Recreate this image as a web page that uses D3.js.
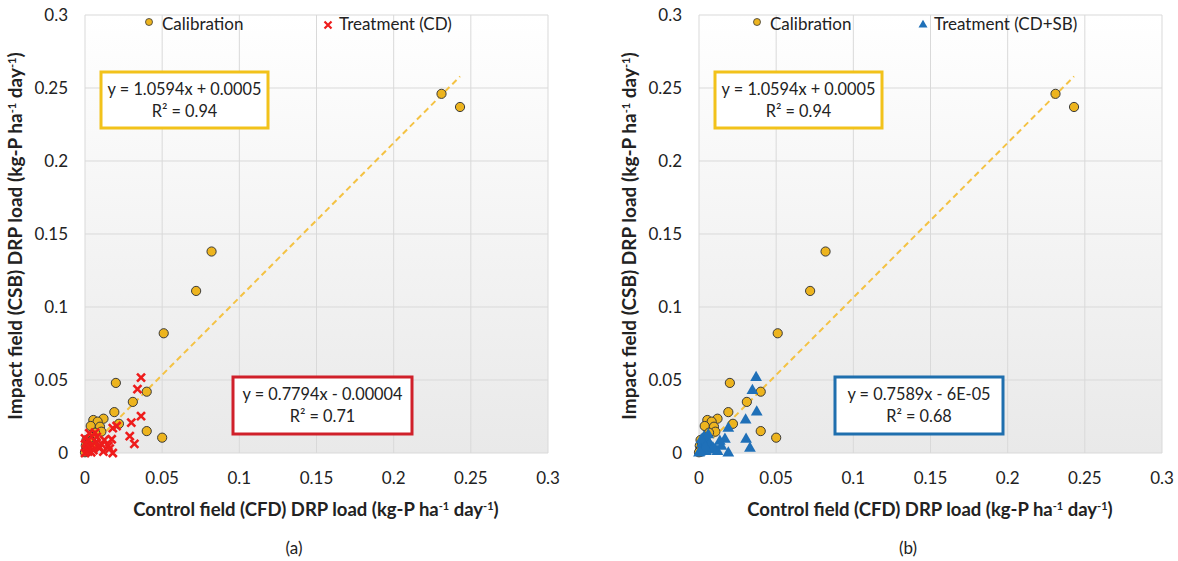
<!DOCTYPE html>
<html>
<head>
<meta charset="utf-8">
<script src="https://cdn.jsdelivr.net/npm/d3@7/dist/d3.min.js"></script>
<style>
  body { margin: 0; background: #fff; }
  text { font-family: Lato, "Open Sans", sans-serif; fill: #222; }
</style>
</head>
<body>
<script>
// calibration period (same in both panels)
const calibX = [0.231, 0.243, 0.082, 0.072, 0.051, 0.020, 0.040, 0.031, 0.019, 0.022, 0.040, 0.050,
                0.012, 0.0054, 0.0082, 0.0037, 0.0097, 0.0106, 0.0065, 0.0043, 0.001, 0.0005, 0.002,
                0.003, 0.0008, 0.0015, 0.0, 0.004, 0.006];
const calibY = [0.246, 0.237, 0.138, 0.111, 0.082, 0.048, 0.042, 0.035, 0.028, 0.020, 0.015, 0.0105,
                0.0235, 0.0226, 0.0215, 0.0185, 0.018, 0.0146, 0.0139, 0.011, 0.0089, 0.005, 0.006,
                0.0035, 0.002, 0.001, 0.0005, 0.008, 0.005];

// treatment (CD)
const cdX = [0.0363, 0.034, 0.0363, 0.030, 0.029, 0.032, 0.018, 0.0205, 0.0173, 0.018, 0.0125, 0.0108,
             0.0151, 0.0093, 0.0054, 0.0076, 0.0022, 0.0043, 0.001, 0.0, 0.0119, 0.016, 0.0028, 0.0,
             0.0065, 0.002, 0.004, 0.0015, 0.007, 0.009, 0.0005];
const cdY = [0.0516, 0.0438, 0.0253, 0.0208, 0.0116, 0.0062, 0.017, 0.0185, 0.0094, 0.0, 0.0089, 0.006,
             0.0048, 0.0032, 0.002, 0.011, 0.0089, 0.0055, 0.0032, 0.0, 0.0009, 0.003, 0.0135, 0.010,
             0.014, 0.001, 0.0005, 0.005, 0.0075, 0.0045, 0.0065];

// treatment (CD+SB)
const sbX = [0.037, 0.0346, 0.0374, 0.0302, 0.0305, 0.033, 0.019, 0.0168, 0.019, 0.0145, 0.0105, 0.0055,
             0.0032, 0.008, 0.0045, 0.002, 0.0, 0.012, 0.0025, 0.001, 0.007, 0.009, 0.0015, 0.004,
             0.0005, 0.0135, 0.006];
const sbY = [0.0516, 0.0427, 0.028, 0.0226, 0.0094, 0.0032, 0.0169, 0.0094, 0.0, 0.0045, 0.0025, 0.0085,
             0.011, 0.002, 0.001, 0.0065, 0.0, 0.001, 0.0035, 0.0015, 0.006, 0.0035, 0.009, 0.004,
             0.0005, 0.008, 0.0125];

const ticks = [0, 0.05, 0.1, 0.15, 0.2, 0.25, 0.3];
const tickLabels = ["0", "0.05", "0.1", "0.15", "0.2", "0.25", "0.3"];
const calibFit = {slope: 1.0594, icpt: 0.0005, xEnd: 0.243, eq: "y = 1.0594x + 0.0005", r2: "R² = 0.94"};

const panels = [
  {dx: 0, name: "Treatment (CD)", tx: cdX, ty: cdY, kind: "cross", color: "#ee1c1c", box: "#d0202a",
   eq: "y = 0.7794x - 0.00004", r2: "R² = 0.71", boxX: [233, 412], legC: 149, legT: 328, label: "(a)"},
  {dx: 614, name: "Treatment (CD+SB)", tx: sbX, ty: sbY, kind: "tri", color: "#1f70b8", box: "#1f6fae",
   eq: "y = 0.7589x - 6E-05", r2: "R² = 0.68", boxX: [221, 389], legC: 143, legT: 309, label: "(b)"}
];

const W = 1178, H = 561;
const svg = d3.select("body").append("svg").attr("width", W).attr("height", H);

const grad = svg.append("defs").append("linearGradient")
  .attr("id", "bg").attr("x1", 0).attr("y1", 0).attr("x2", 0).attr("y2", 1);
grad.append("stop").attr("offset", "0%").attr("stop-color", "#ffffff");
grad.append("stop").attr("offset", "100%").attr("stop-color", "#e9e9e9");

panels.forEach(function(p) {
  const g = svg.append("g").attr("transform", "translate(" + p.dx + ",0)");
  const x = d3.scaleLinear().domain([0, 0.3]).range([85, 548]);
  const y = d3.scaleLinear().domain([0, 0.3]).range([453, 15]);

  g.append("rect").attr("x", x(0)).attr("y", y(0.3))
    .attr("width", x(0.3) - x(0)).attr("height", y(0) - y(0.3)).attr("fill", "url(#bg)");

  // gridlines
  g.selectAll(".gx").data(ticks).enter().append("line")
    .attr("x1", d => x(d)).attr("x2", d => x(d)).attr("y1", y(0)).attr("y2", y(0.3))
    .attr("stroke", "#d9d9d9");
  g.selectAll(".gy").data(ticks).enter().append("line")
    .attr("y1", d => y(d)).attr("y2", d => y(d)).attr("x1", x(0)).attr("x2", x(0.3))
    .attr("stroke", "#d9d9d9");

  // tick labels
  g.selectAll(".tx").data(ticks).enter().append("text")
    .attr("x", d => x(d)).attr("y", 484).attr("text-anchor", "middle")
    .attr("font-size", "17px").text((d, i) => tickLabels[i]);
  g.selectAll(".ty").data(ticks).enter().append("text")
    .attr("x", 68).attr("y", d => y(d) + 6).attr("text-anchor", "end")
    .attr("font-size", "17px").text((d, i) => tickLabels[i]);

  // calibration trend line
  g.append("line")
    .attr("x1", x(0)).attr("y1", y(calibFit.icpt))
    .attr("x2", x(calibFit.xEnd)).attr("y2", y(calibFit.slope * calibFit.xEnd + calibFit.icpt))
    .attr("stroke", "#f4c243").attr("stroke-width", 2).attr("stroke-dasharray", "6,4");

  // calibration points
  g.selectAll(".cal").data(calibX).enter().append("circle")
    .attr("cx", d => x(d)).attr("cy", (d, i) => y(calibY[i])).attr("r", 4.6)
    .attr("fill", "#edb41e").attr("stroke", "#3a3a3a").attr("stroke-width", 1);

  // treatment points
  const tr = g.selectAll(".tr").data(p.tx).enter().append("g")
    .attr("transform", (d, i) => "translate(" + x(d) + "," + y(p.ty[i]) + ")");
  if (p.kind === "cross") {
    tr.append("path").attr("d", "M-4,-4L4,4M-4,4L4,-4")
      .attr("stroke", p.color).attr("stroke-width", 2.6).attr("fill", "none");
  } else {
    tr.append("path").attr("d", d3.symbol(d3.symbolTriangle, 60)).attr("fill", p.color);
  }

  // legend
  g.append("circle").attr("cx", p.legC).attr("cy", 22).attr("r", 3.5)
    .attr("fill", "#edb41e").attr("stroke", "#3a3a3a").attr("stroke-width", 0.8);
  g.append("text").attr("x", p.legC + 13).attr("y", 30).attr("font-size", "17px").text("Calibration");
  if (p.kind === "cross") {
    g.append("path").attr("transform", "translate(" + p.legT + ",25)")
      .attr("d", "M-3.5,-3.5L3.5,3.5M-3.5,3.5L3.5,-3.5")
      .attr("stroke", p.color).attr("stroke-width", 2.2);
  } else {
    g.append("path").attr("transform", "translate(" + p.legT + ",25)")
      .attr("d", d3.symbol(d3.symbolTriangle, 35)).attr("fill", p.color);
  }
  g.append("text").attr("x", p.legT + 11).attr("y", 30).attr("font-size", "17px").text(p.name);

  // equation boxes
  function eqBox(x0, x1, y0, y1, stroke, l1, l2) {
    g.append("rect").attr("x", x0).attr("y", y0).attr("width", x1 - x0).attr("height", y1 - y0)
      .attr("fill", "#fff").attr("stroke", stroke).attr("stroke-width", 3);
    g.append("text").attr("x", (x0 + x1) / 2).attr("y", y0 + 23).attr("text-anchor", "middle")
      .attr("font-size", "16.3px").text(l1);
    g.append("text").attr("x", (x0 + x1) / 2).attr("y", y0 + 45).attr("text-anchor", "middle")
      .attr("font-size", "16.3px").text(l2);
  }
  eqBox(101, 268, 72, 128, "#f2c21b", calibFit.eq, calibFit.r2);
  eqBox(p.boxX[0], p.boxX[1], 377, 434, p.box, p.eq, p.r2);

  // axis titles
  const xt = g.append("text").attr("x", 316).attr("y", 516).attr("text-anchor", "middle")
    .attr("font-size", "18.5px").attr("font-weight", "bold");
  xt.append("tspan").text("Control field (CFD) DRP load (kg-P ha");
  xt.append("tspan").attr("baseline-shift", "super").attr("font-size", "11px").text("-1");
  xt.append("tspan").text(" day");
  xt.append("tspan").attr("baseline-shift", "super").attr("font-size", "11px").text("-1");
  xt.append("tspan").text(")");

  const yt = g.append("text").attr("transform", "translate(22,236) rotate(-90)")
    .attr("text-anchor", "middle").attr("font-size", "19px").attr("font-weight", "bold");
  yt.append("tspan").text("Impact field (CSB) DRP load (kg-P ha");
  yt.append("tspan").attr("baseline-shift", "super").attr("font-size", "11px").text("-1");
  yt.append("tspan").text(" day");
  yt.append("tspan").attr("baseline-shift", "super").attr("font-size", "11px").text("-1");
  yt.append("tspan").text(")");

  g.append("text").attr("x", 294).attr("y", 554).attr("text-anchor", "middle")
    .attr("font-size", "17px").text(p.label);
});
</script>
</body>
</html>
